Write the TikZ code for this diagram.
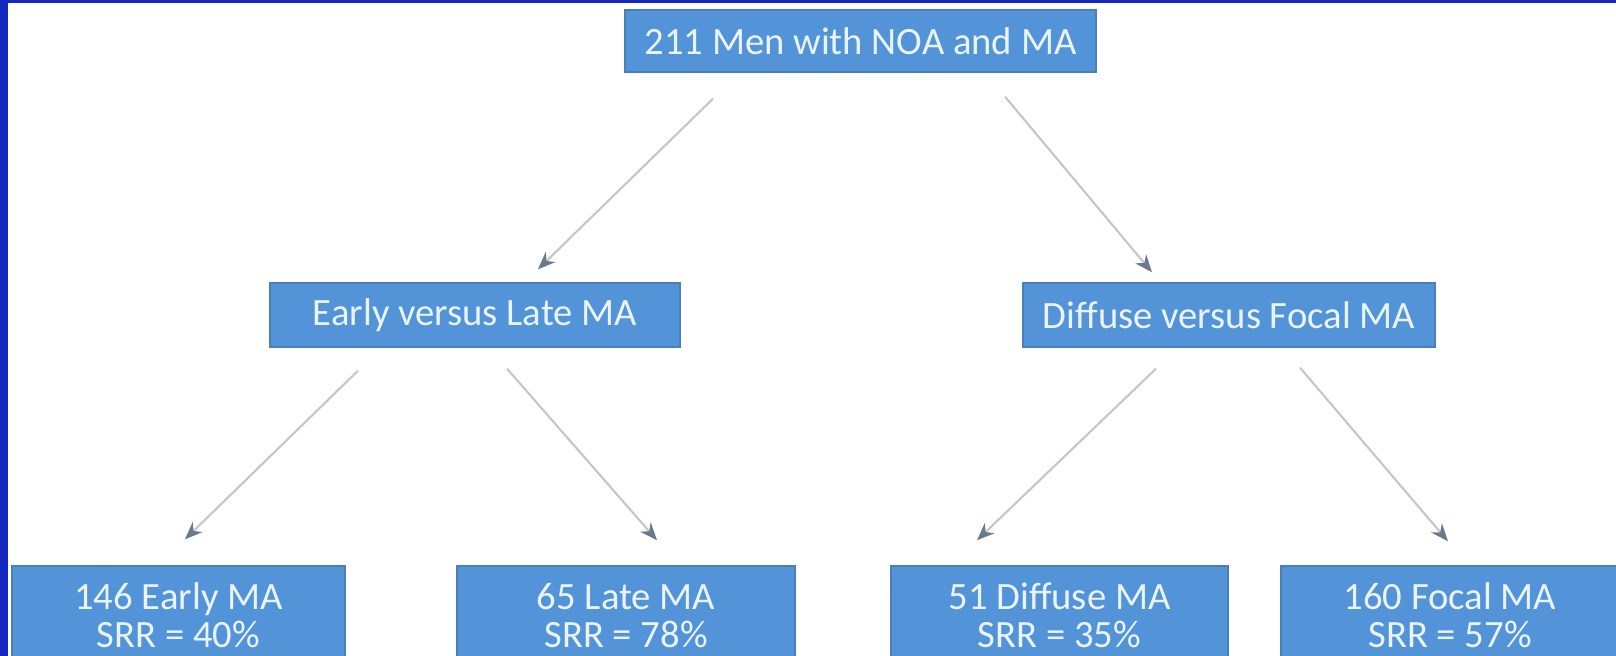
\documentclass[tikz,border=0pt]{standalone}
\usepackage{fontspec}
\setmainfont{Carlito}
\usetikzlibrary{arrows.meta}
\definecolor{my frame}{HTML}{1428C0}
\definecolor{my blue}{HTML}{5393D8}
\definecolor{my edge}{HTML}{4A7FB8}
\definecolor{my text}{HTML}{EAF4FF}
\definecolor{my grey}{HTML}{C4C6C8}
\definecolor{my tip}{HTML}{6A7A8C}

\begin{document}
\begin{tikzpicture}[
        box/.style = {fill=my blue, draw=my edge, line width=0.4pt, text=my text, align=center,
                      inner sep=0pt, font=\fontsize{11}{10.8}\selectfont},
        link/.style = {my grey, line width=0.6pt, -{Stealth[length=5pt, width=4pt, color=my tip]}}
    ]
            \useasboundingbox (0, 0) rectangle (16.16, -6.56);
            \fill [my frame] (0, 0) rectangle (0.08, -6.56);
            \fill [my frame] (0, 0) rectangle (16.16, -0.035);

            \node [box, minimum width=4.71cm, minimum height=0.62cm] (top) at (8.605, -0.41) {211 Men with NOA and MA};
            \node [box, minimum width=4.10cm, minimum height=0.64cm] (early) at (4.75, -3.15) {Early versus Late MA};
            \node [box, minimum width=4.12cm, minimum height=0.64cm] (diffuse) at (12.29, -3.15) {Diffuse versus Focal MA};

            \node [box, minimum width=3.33cm, minimum height=0.99cm] (early n) at (1.785, -6.155) {146 Early MA\\SRR = 40\%};
            \node [box, minimum width=3.38cm, minimum height=0.99cm] (late n) at (6.26, -6.155) {65 Late MA\\SRR = 78\%};
            \node [box, minimum width=3.37cm, minimum height=0.99cm] (diffuse n) at (10.595, -6.155) {51 Diffuse MA\\SRR = 35\%};
            \node [box, minimum width=3.38cm, minimum height=0.99cm] (focal n) at (14.50, -6.155) {160 Focal MA\\SRR = 57\%};

            \draw [link] ([shift={(-1.475, -0.26)}] top.south) -- ([shift={(0.63, 0.13)}] early.north);
            \draw [link] ([shift={(1.445, -0.24)}] top.south) -- ([shift={(-0.77, 0.10)}] diffuse.north);
            \draw [link] ([shift={(-1.17, -0.23)}] early.south) -- ([shift={(0.065, 0.26)}] early n.north);
            \draw [link] ([shift={(0.32, -0.21)}] early.south) -- ([shift={(0.31, 0.25)}] late n.north);
            \draw [link] ([shift={(-0.73, -0.21)}] diffuse.south) -- ([shift={(-0.825, 0.25)}] diffuse n.north);
            \draw [link] ([shift={(0.71, -0.20)}] diffuse.south) -- ([shift={(-0.02, 0.24)}] focal n.north);
        \end{tikzpicture}
\end{document}
